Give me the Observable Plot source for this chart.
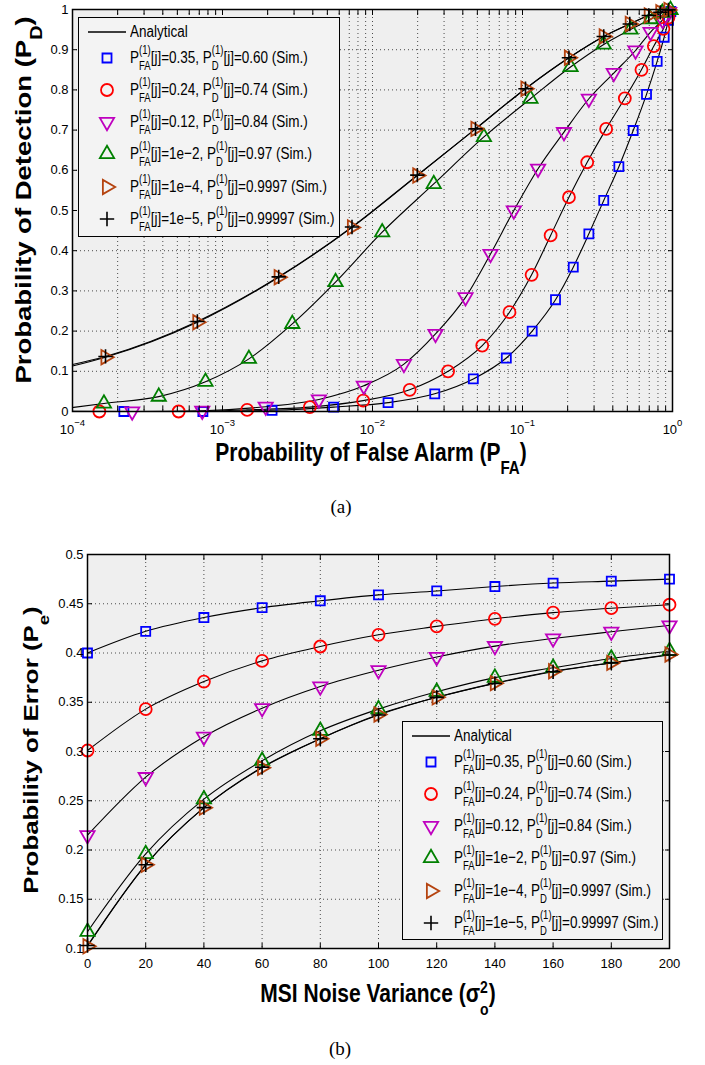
<!DOCTYPE html>
<html><head><meta charset="utf-8">
<script src="https://cdn.jsdelivr.net/npm/d3@7"></script>
<script src="https://cdn.jsdelivr.net/npm/@observablehq/plot@0.6"></script>
<style>
body{margin:0;background:#fff;font-family:"Liberation Sans",Arial,Helvetica,sans-serif;}
#wrap{position:relative;width:705px;height:1065px;overflow:hidden;background:#fff}
.abs{position:absolute}
.lab{position:absolute;white-space:nowrap;font-weight:bold;color:#000;line-height:60px;height:60px}
.sub{font-size:0.72em;vertical-align:-11px}
.legend{position:absolute;border:1.3px solid #000;background:#f3f3f3;box-sizing:border-box}
.lrow{position:absolute;white-space:nowrap;height:40px;line-height:40px;font-size:13.5px;color:#000;transform:scaleY(1.28);transform-origin:0 50%}
.st{display:inline-block;vertical-align:-5px;line-height:12.5px;font-size:9.5px;text-align:left}
.st span{display:block}
.st2{display:inline-block;vertical-align:-10.9px;line-height:17.6px;font-size:14px;text-align:left}
.st2 span{display:block}
.cap{position:absolute;font-family:"Liberation Serif","Times New Roman",serif;font-size:19px;transform:translate(-50%,-50%);white-space:nowrap}
</style></head>
<body>
<div id="wrap">
  <div id="chartA" class="abs" style="left:0;top:0"></div>
  <div id="chartB" class="abs" style="left:0;top:545px"></div>
</div>
<script>
// ---------- Series styling ----------
const seriesColor  = ["#0000ff", "#ff0000", "#bf00bf", "#008000", "#b5430f", "#000000"];
const seriesSymbol = ["square", "circle", "triangle", "triangle", "triangle", "plus"];
const seriesRotate = [0, 0, 180, 0, 90, 0];
const seriesR      = [5.1, 6, 5.3, 5.3, 5.3, 4.7];
const seriesSW     = [1.8, 1.8, 1.8, 1.8, 1.8, 1.6];
const legendFA = ["0.35", "0.24", "0.12", "1e\u22122", "1e\u22124", "1e\u22125"];
const legendPD = ["0.60", "0.74", "0.84", "0.97", "0.9997", "0.99997"];

// ---------- Chart (a): ROC, P_FA (log) vs P_D ----------
const pfaSq  = [2.2e-4, 7.4e-4, 2.14e-3, 5.5e-3, 0.0127, 0.026, 0.047, 0.078, 0.116, 0.166, 0.218, 0.277, 0.348, 0.439, 0.547, 0.671, 0.79, 0.88, 0.94, 0.975];
const pdSq   = [0, 0, 0.003, 0.011, 0.022, 0.044, 0.081, 0.133, 0.200, 0.278, 0.359, 0.442, 0.525, 0.609, 0.699, 0.789, 0.871, 0.931, 0.973, 0.995];
const pfaCirc = [1.51e-4, 5.1e-4, 1.46e-3, 3.82e-3, 8.67e-3, 0.0177, 0.0319, 0.0539, 0.0819, 0.115, 0.154, 0.204, 0.270, 0.361, 0.481, 0.621, 0.751, 0.87, 0.94];
const pdCirc  = [0, 0, 0.004, 0.011, 0.027, 0.054, 0.100, 0.164, 0.247, 0.340, 0.438, 0.533, 0.620, 0.703, 0.779, 0.850, 0.909, 0.952, 0.98];
const pfaTriD = [2.5e-4, 7.33e-4, 1.94e-3, 4.39e-3, 8.75e-3, 0.0162, 0.0263, 0.0417, 0.0612, 0.0875, 0.127, 0.189, 0.277, 0.406, 0.567, 0.714, 0.86, 0.95];
const pdTriD  = [0, 0.002, 0.012, 0.030, 0.064, 0.118, 0.193, 0.284, 0.392, 0.500, 0.604, 0.695, 0.778, 0.842, 0.898, 0.944, 0.974, 0.994];
const pfaTriU = [1.62e-4, 3.76e-4, 7.7e-4, 1.50e-3, 2.92e-3, 5.67e-3, 0.0116, 0.0256, 0.0553, 0.113, 0.209, 0.348, 0.525, 0.713, 0.855, 0.97];
const pdTriU  = [0.020, 0.037, 0.074, 0.131, 0.218, 0.322, 0.446, 0.566, 0.683, 0.778, 0.857, 0.913, 0.950, 0.976, 0.992, 0.999];
const pfaTriR = [1.66e-4, 6.8e-4, 2.37e-3, 7.3e-3, 0.0199, 0.0486, 0.1047, 0.204, 0.348, 0.519, 0.695, 0.83, 0.94];
const pdTriR  = [0.135, 0.222, 0.334, 0.458, 0.587, 0.703, 0.803, 0.880, 0.933, 0.964, 0.985, 0.993, 0.999];
const pfaPlus = [1.66e-4, 6.8e-4, 2.37e-3, 7.3e-3, 0.0199, 0.0486, 0.1047, 0.204, 0.348, 0.519, 0.695, 0.83, 0.94];
const pdPlus  = [0.137, 0.224, 0.335, 0.459, 0.588, 0.703, 0.803, 0.880, 0.933, 0.964, 0.985, 0.993, 0.999];
// analytical curves: value at the left edge (P_FA = 1e-4); all end at (1, 1)
const pdAnalyticStart = [0, 0, 0.0005, 0.010, 0.113, 0.117];
const pfaA = [pfaSq, pfaCirc, pfaTriD, pfaTriU, pfaTriR, pfaPlus];
const pdA  = [pdSq, pdCirc, pdTriD, pdTriU, pdTriR, pdPlus];

const xTicksA = [1e-4, 1e-3, 1e-2, 1e-1, 1];
const yTicksA = [0, 0.1, 0.2, 0.3, 0.4, 0.5, 0.6, 0.7, 0.8, 0.9, 1];

// ---------- Chart (b): P_e vs MSI noise variance ----------
const sigma2 = [0, 20, 40, 60, 80, 100, 120, 140, 160, 180, 200];
const peSq   = [0.400, 0.422, 0.436, 0.446, 0.453, 0.459, 0.463, 0.4675, 0.471, 0.473, 0.475];
const peCirc = [0.301, 0.343, 0.371, 0.392, 0.4066, 0.4185, 0.427, 0.4347, 0.441, 0.4455, 0.449];
const peTriD = [0.215, 0.274, 0.315, 0.344, 0.366, 0.3825, 0.396, 0.407, 0.4147, 0.4215, 0.428];
const peTriU = [0.117, 0.196, 0.2516, 0.2906, 0.321, 0.343, 0.3606, 0.375, 0.385, 0.3944, 0.402];
const peTriR = [0.1023, 0.185, 0.243, 0.2835, 0.313, 0.3376, 0.355, 0.3694, 0.3815, 0.390, 0.3985];
const pePlus = [0.1030, 0.185, 0.243, 0.2840, 0.313, 0.3370, 0.355, 0.3690, 0.3810, 0.390, 0.3980];
const peB = [peSq, peCirc, peTriD, peTriU, peTriR, pePlus];

const xTicksB = [0, 20, 40, 60, 80, 100, 120, 140, 160, 180, 200];
const yTicksB = [0.1, 0.15, 0.2, 0.25, 0.3, 0.35, 0.4, 0.45, 0.5];

// minor log ticks for (a)
const minorA = [];
for (let k = -4; k < 0; k++) for (let m = 1; m < 10; m++) minorA.push(+(m * Math.pow(10, k)).toPrecision(3));
minorA.push(1);

const gridStyle = {stroke: "#3a3a3a", strokeOpacity: 0.9, strokeDasharray: "1,3", strokeWidth: 1};
const fontStyle = {fontFamily: "'Liberation Sans', Arial, sans-serif", fontSize: "13px", color: "#000", background: "transparent", overflow: "visible"};

function innerTicks(xt, yt) {
  return [
    Plot.axisX({ticks: xt, anchor: "bottom", tickSize: 5, dy: -5, tickFormat: () => "", label: null}),
    Plot.axisX({ticks: xt, anchor: "top", tickSize: 5, dy: 5, tickFormat: () => "", label: null}),
    Plot.axisY({ticks: yt, anchor: "left", tickSize: 5, dx: 5, tickFormat: () => "", label: null}),
    Plot.axisY({ticks: yt, anchor: "right", tickSize: 5, dx: -5, tickFormat: () => "", label: null})
  ];
}
function seriesMarks(datasets) {
  const lines = datasets.map(d => Plot.line(d.line, {x: "x", y: "y", curve: "monotone-x", stroke: "#000", strokeWidth: 1.1}));
  const dots = datasets.map((d, i) => Plot.dot(d.pts, {x: "x", y: "y", symbol: seriesSymbol[i], rotate: seriesRotate[i], r: seriesR[i], fill: "none", stroke: seriesColor[i], strokeWidth: seriesSW[i]}));
  return [...lines, ...dots];
}

// build chart (a)
const dataA = pfaA.map((xs, i) => {
  const pts = xs.map((x, j) => ({x, y: pdA[i][j]}));
  return {pts, line: [{x: 1e-4, y: pdAnalyticStart[i]}, ...pts, {x: 1, y: 1}]};
});
const chartA = Plot.plot({
  width: 705, height: 480,
  marginLeft: 72, marginRight: 33, marginTop: 9, marginBottom: 69,
  x: {type: "log", domain: [1e-4, 1]},
  y: {domain: [0, 1]},
  style: fontStyle,
  marks: [
    Plot.frame({fill: "#efefef", stroke: null}),
    Plot.gridX({ticks: minorA, ...gridStyle}),
    Plot.gridY({ticks: yTicksA, ...gridStyle}),
    ...seriesMarks(dataA),
    Plot.frame({stroke: "#000", strokeWidth: 1.5, fill: "none"}),
    ...innerTicks(minorA, yTicksA),
    Plot.axisY({ticks: yTicksA, anchor: "left", tickSize: 0, tickPadding: 4, tickFormat: d => (d === 0 ? "0" : d === 1 ? "1" : d.toFixed(1)), label: null}),
    Plot.axisX({ticks: xTicksA, anchor: "bottom", tickSize: 0, tickPadding: 13, tickFormat: d => "10^" + Math.round(Math.log10(d)), label: null})
  ]
});
document.getElementById("chartA").appendChild(chartA);
// superscript exponent on log tick labels
chartA.querySelectorAll("text").forEach(t => {
  const s = t.textContent;
  if (s.startsWith("10^")) {
    const e = s.slice(3).replace("-", "\u2212");
    t.textContent = "";
    const a = document.createElementNS("http://www.w3.org/2000/svg", "tspan");
    a.textContent = "10";
    const b = document.createElementNS("http://www.w3.org/2000/svg", "tspan");
    b.textContent = e; b.setAttribute("dy", "-8"); b.setAttribute("font-size", "9.5px");
    t.appendChild(a); t.appendChild(b);
  }
});

// build chart (b)
const dataB = peB.map(ys => {
  const pts = sigma2.map((x, j) => ({x, y: ys[j]}));
  return {pts, line: pts};
});
const chartB = Plot.plot({
  width: 705, height: 443,
  marginLeft: 87, marginRight: 36, marginTop: 9, marginBottom: 40,
  x: {domain: [0, 200]},
  y: {domain: [0.1, 0.5]},
  style: fontStyle,
  marks: [
    Plot.frame({fill: "#efefef", stroke: null}),
    Plot.gridX({ticks: xTicksB, ...gridStyle}),
    Plot.gridY({ticks: yTicksB, ...gridStyle}),
    ...seriesMarks(dataB),
    Plot.frame({stroke: "#000", strokeWidth: 1.5, fill: "none"}),
    ...innerTicks(xTicksB, yTicksB),
    Plot.axisY({ticks: yTicksB, anchor: "left", tickSize: 0, tickPadding: 4, tickFormat: d => String(+d.toFixed(2)), label: null}),
    Plot.axisX({ticks: xTicksB, anchor: "bottom", tickSize: 0, tickPadding: 10, tickFormat: d => String(d), label: null})
  ]
});
document.getElementById("chartB").appendChild(chartB);

// ---------- HTML text: axis labels, captions, legends ----------
const wrap = document.getElementById("wrap");
function addDiv(cls, style, html) {
  const d = document.createElement("div");
  d.className = cls; d.setAttribute("style", style); d.innerHTML = html;
  wrap.appendChild(d); return d;
}
// x labels
addDiv("lab", "left:371px;top:452px;font-size:21px;transform:translate(-50%,-50%) scaleY(1.22)",
  "Probability of False Alarm (P<span class='sub'>FA</span>)");
addDiv("lab", "left:378px;top:993px;font-size:21px;transform:translate(-50%,-50%) scaleY(1.22)",
  "MSI Noise Variance (\u03c3<span class='st2'><span>2</span><span>o</span></span>)");
// y labels
addDiv("lab", "left:23.5px;top:200px;font-size:22px;transform:translate(-50%,-50%) rotate(-90deg) scaleX(1.25)",
  "Probability of Detection (P<span class='sub'>D</span>)");
addDiv("lab", "left:30.5px;top:750px;font-size:21px;transform:translate(-50%,-50%) rotate(-90deg) scaleX(1.23)",
  "Probability of Error (P<span class='sub'>e</span>)");
// captions
addDiv("cap", "left:341px;top:507px", "(a)");
addDiv("cap", "left:340px;top:1049px", "(b)");

const legendRowY = [14, 40, 72, 104, 136, 168.5, 201];
const symbolFns = {square: d3.symbolSquare, circle: d3.symbolCircle, triangle: d3.symbolTriangle, plus: d3.symbolPlus};
function buildLegend(left, top, w, h) {
  const box = addDiv("legend", `left:${left}px;top:${top}px;width:${w}px;height:${h}px`, "");
  const y0 = legendRowY[0];
  box.insertAdjacentHTML("beforeend",
    `<svg style="position:absolute;left:8px;top:${y0 - 3}px" width="40" height="6"><line x1="1" x2="39" y1="3" y2="3" stroke="#000" stroke-width="1.3"/></svg>`);
  const r0 = document.createElement("div");
  r0.className = "lrow"; r0.style.left = "51px"; r0.style.top = (y0 - 20) + "px";
  r0.textContent = "Analytical"; box.appendChild(r0);
  for (let i = 0; i < 6; i++) {
    const y = legendRowY[i + 1];
    const r = seriesR[i];
    const path = d3.symbol(symbolFns[seriesSymbol[i]], Math.PI * r * r)();
    box.insertAdjacentHTML("beforeend",
      `<svg style="position:absolute;left:${28 - 10}px;top:${y - 10}px" width="20" height="20"><path d="${path}" transform="translate(10,10) rotate(${seriesRotate[i]})" fill="none" stroke="${seriesColor[i]}" stroke-width="${seriesSW[i]}"/></svg>`);
    const row = document.createElement("div");
    row.className = "lrow"; row.style.left = "51px"; row.style.top = (y - 20) + "px";
    row.innerHTML = `P<span class="st"><span>(1)</span><span>FA</span></span>[j]=${legendFA[i]}, P<span class="st"><span>(1)</span><span>D</span></span>[j]=${legendPD[i]} (Sim.)`;
    box.appendChild(row);
  }
}
buildLegend(78, 17, 262, 220);
buildLegend(402, 721, 261, 219);
</script>
</body></html>
